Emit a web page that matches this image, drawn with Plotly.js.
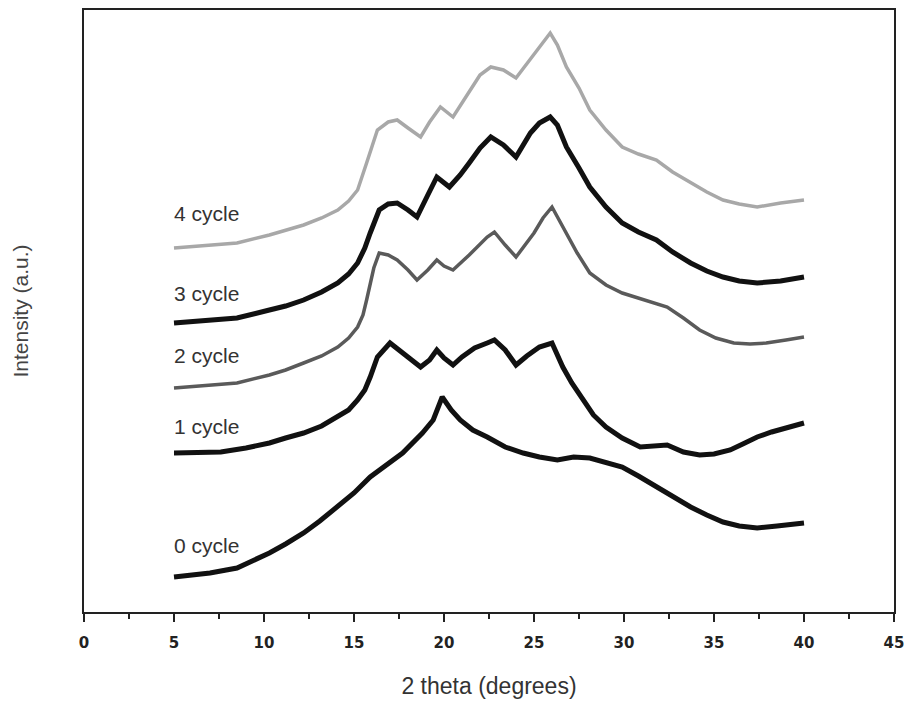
<!DOCTYPE html>
<html>
<head>
<meta charset="utf-8">
<script src="https://cdn.plot.ly/plotly-3.0.1.min.js"></script>
<style>html,body{margin:0;padding:0;background:#fff;}#chart{width:910px;height:702px;}</style>
</head>
<body>
<div id="chart"></div>
<script>
// 0 cycle
const x0 = [5.0,6.0,7.0,8.5,10.3,11.2,12.2,13.1,14.1,15.0,15.9,16.8,17.7,18.8,19.4,19.9,20.4,20.9,21.6,22.4,23.4,24.4,25.3,26.3,27.2,28.1,29.0,29.9,30.8,31.8,32.7,33.7,34.6,35.5,36.4,37.4,38.5,39.3,40.0];
const y0 = [35,37,39,44,59,68,79,91,105,119,135,147,159,179,192,215,202,192,182,175,165,159,155,152,155,154,150,145,136,125,115,105,97,90,86,84,86,88,89];
// 1 cycle
const x1 = [5.0,6.3,7.6,9.0,10.3,11.2,12.2,13.2,14.1,14.7,15.2,15.6,15.9,16.3,17.0,17.7,18.2,18.7,19.2,19.6,20.0,20.5,21.0,21.7,22.4,22.8,23.4,24.0,24.6,25.3,26.0,26.6,27.1,27.7,28.3,29.0,29.9,30.9,31.6,32.4,33.3,34.2,35.0,35.9,36.6,37.4,38.2,39.1,40.0];
const y1 = [159,159,160,164,169,174,179,186,195,202,212,222,235,255,269,259,252,245,252,262,254,247,255,264,269,272,262,247,256,265,269,245,229,212,197,185,174,165,166,167,160,157,158,162,168,175,180,184,189];
// 2 cycle
const x2 = [5.0,6.5,8.5,10.3,11.2,12.2,13.2,14.1,14.7,15.2,15.5,15.7,15.9,16.1,16.4,16.9,17.4,18.0,18.5,19.1,19.6,20.0,20.5,21.4,22.4,22.8,23.4,24.0,25.0,25.5,26.0,26.8,27.4,28.1,29.0,29.9,30.8,31.8,32.4,33.3,34.2,35.1,36.1,37.0,37.9,39.0,40.0];
const y2 = [224,226,229,237,242,249,256,265,274,285,297,312,327,344,359,357,352,342,332,342,352,346,342,357,375,380,367,355,379,394,405,379,359,339,327,319,314,309,305,294,282,274,269,268,269,272,275];
// 3 cycle
const x3 = [5.0,6.5,8.5,10.3,11.2,12.2,13.2,14.1,14.7,15.2,15.6,15.9,16.4,16.9,17.4,18.0,18.5,19.1,19.6,20.3,20.9,21.4,22.0,22.6,23.3,24.0,24.8,25.3,25.9,26.3,26.8,27.5,28.1,29.0,29.9,30.8,31.8,32.7,33.7,34.6,35.5,36.4,37.4,38.7,40.0];
const y3 = [289,291,294,302,306,312,320,329,338,349,364,379,402,408,409,402,395,417,435,425,437,449,464,475,467,455,479,489,495,487,465,444,425,405,389,380,372,360,349,341,335,331,329,331,335];
// 4 cycle
const x4 = [5.0,6.5,8.5,10.3,11.2,12.2,13.2,14.1,14.7,15.2,15.7,16.0,16.3,16.9,17.4,18.0,18.7,19.2,19.8,20.5,21.4,22.0,22.6,23.3,24.0,24.9,25.5,25.9,26.3,26.8,27.5,28.1,29.0,29.9,30.8,31.8,32.7,33.7,34.6,35.5,36.4,37.4,38.7,40.0];
const y4 = [364,366,369,377,382,387,394,402,411,422,449,467,482,490,492,484,475,490,505,495,520,537,545,542,534,555,570,579,567,545,524,502,482,465,458,452,440,429,420,412,408,405,409,412];

const labels = ["0 cycle","1 cycle","2 cycle","3 cycle","4 cycle"];
const labelY = [67,186,257,319,399];
const colors = ["#111111","#111111","#5a5a5a","#111111","#a8a8a8"];
const widths = [5,5,3.5,5,3.5];
const xs = [x0,x1,x2,x3,x4];
const ys = [y0,y1,y2,y3,y4];

const traces = xs.map((x,i)=>({
  x:x, y:ys[i], type:'scatter', mode:'lines', name:labels[i],
  line:{color:colors[i], width:widths[i], shape:'linear'}
}));

const annotations = labels.map((t,i)=>({
  x:4.9, y:labelY[i], xref:'x', yref:'y', text:t, showarrow:false,
  xanchor:'left', yanchor:'middle',
  font:{family:'Liberation Sans, Arial, sans-serif', size:21, color:'#333'}
}));

const layout = {
  width:910, height:702,
  margin:{l:84, r:16, t:10, b:90},
  paper_bgcolor:'#fff', plot_bgcolor:'#fff',
  showlegend:false,
  xaxis:{
    range:[0,45], dtick:5, tick0:0, ticks:'outside', ticklen:8, tickwidth:2, tickcolor:'#222',
    minor:{dtick:2.5, ticks:'outside', ticklen:5, tickwidth:2, tickcolor:'#222'},
    showline:true, linecolor:'#222', linewidth:2, mirror:true, showgrid:false, zeroline:false,
    ticklabelstandoff:8,
    tickfont:{family:'DejaVu Sans, sans-serif', size:15, color:'#222', weight:'bold'},
    title:{text:'2 theta (degrees)', font:{family:'Liberation Sans, Arial, sans-serif', size:23, color:'#333'}, standoff:27}
  },
  yaxis:{
    range:[0,602], showticklabels:false, ticks:'', showline:true, linecolor:'#222', linewidth:2, mirror:true,
    showgrid:false, zeroline:false,
    title:{text:'Intensity (a.u.)', font:{family:'Liberation Sans, Arial, sans-serif', size:21, color:'#444'}, standoff:48}
  },
  annotations:annotations
};

Plotly.newPlot('chart', traces, layout, {displayModeBar:false, staticPlot:true});
</script>
</body>
</html>
